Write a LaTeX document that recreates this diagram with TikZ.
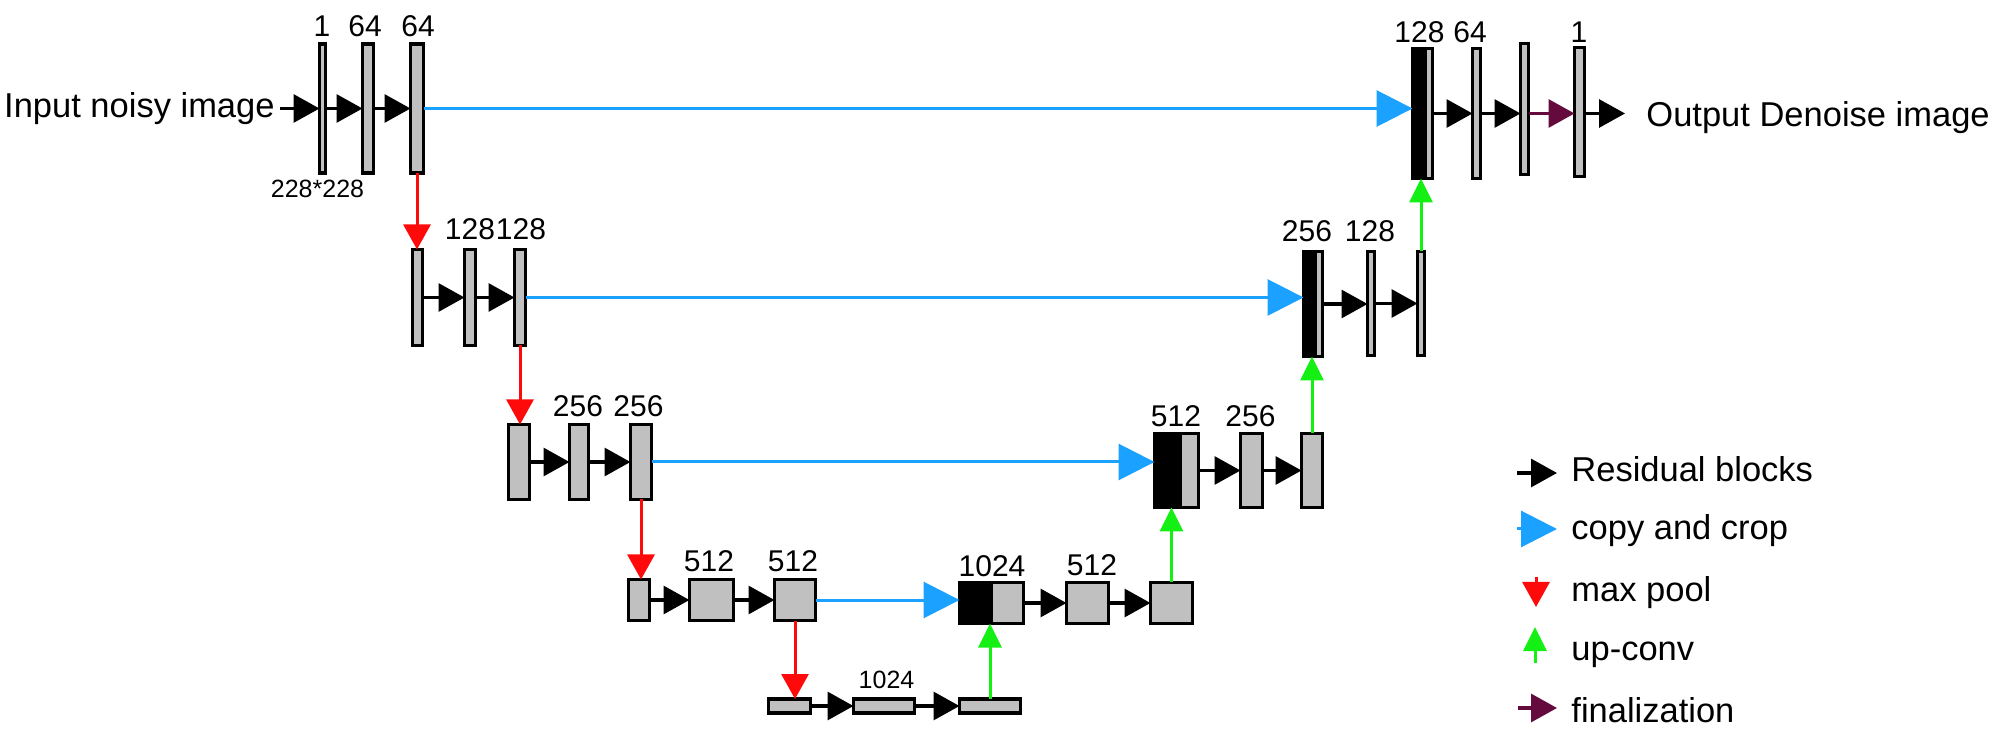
\documentclass[tikz,border=0pt]{standalone}
\usepackage{fontspec}
\setmainfont{Liberation Sans}
\usetikzlibrary{arrows.meta}
\definecolor{boxgray}{RGB}{192,192,192}
\definecolor{copyblue}{RGB}{27,161,255}
\definecolor{poolred}{RGB}{255,10,10}
\definecolor{upgreen}{RGB}{20,240,20}
\definecolor{finmaroon}{RGB}{100,10,60}
\begin{document}
\begin{tikzpicture}[x=0.5pt,y=-0.5pt,
  blk/.style={draw=black, line width=1.6pt, fill=boxgray, inner sep=0pt, outer sep=0pt},
  blkk/.style={blk, fill=black},
  res/.style={draw=black, line width=1.6pt, -{Triangle[length=13pt,width=14pt]}},
  fin/.style={draw=finmaroon, line width=1.6pt, -{Triangle[length=13pt,width=14pt]}},
  copyarr/.style={draw=copyblue, line width=1.5pt, -{Triangle[length=18pt,width=18pt]}},
  pool/.style={draw=poolred, line width=1.5pt, -{Triangle[length=12.5pt,width=13.5pt]}},
  upc/.style={draw=upgreen, line width=1.5pt, -{Triangle[length=12pt,width=11.5pt]}},
  lbl/.style={font=\fontsize{15}{18}\selectfont, inner sep=0pt, anchor=base},
  slbl/.style={font=\fontsize{12.5}{15}\selectfont, inner sep=0pt, anchor=base},
  bigtxt/.style={font=\fontsize{17.25}{20}\selectfont, inner ysep=0pt},
  legtxt/.style={bigtxt, anchor=base west, inner xsep=7pt}
]
\useasboundingbox (0,0) rectangle (2000,747);

% ---------- encoder level 1 ----------
\node[blk, minimum width=3pt, minimum height=64.5pt] (e11) at (322.5,108.5) {};
\node[blk, minimum width=5.5pt, minimum height=64.5pt] (e12) at (368,108.5) {};
\node[blk, minimum width=6.5pt, minimum height=64.5pt] (e13) at (417,108.5) {};
% ---------- encoder level 2 ----------
\node[blk, minimum width=5pt, minimum height=48pt] (e21) at (417.5,297.5) {};
\node[blk, minimum width=5.5pt, minimum height=48pt] (e22) at (470,297.5) {};
\node[blk, minimum width=5.5pt, minimum height=48pt] (e23) at (520,297.5) {};
% ---------- encoder level 3 ----------
\node[blk, minimum width=10.5pt, minimum height=37.5pt] (e31) at (519,462) {};
\node[blk, minimum width=9.5pt, minimum height=37.5pt] (e32) at (579,462) {};
\node[blk, minimum width=10.5pt, minimum height=37.5pt] (e33) at (641,462) {};
% ---------- encoder level 4 ----------
\node[blk, minimum width=10.5pt, minimum height=20.5pt] (e41) at (639,600) {};
\node[blk, minimum width=22pt, minimum height=20.5pt] (e42) at (711.5,600) {};
\node[blk, minimum width=20.5pt, minimum height=20.5pt] (e43) at (795,600) {};
% ---------- bottom ----------
\node[blk, minimum width=21pt, minimum height=7pt] (b1) at (789.5,706) {};
\node[blk, minimum width=30.5pt, minimum height=7pt] (b2) at (884,706) {};
\node[blk, minimum width=30.5pt, minimum height=7pt] (b3) at (990,706) {};
% ---------- decoder level 4 ----------
\node[blkk, minimum width=15.75pt, minimum height=20.5pt] (d41k) at (975.25,603) {};
\node[blk, minimum width=16.25pt, minimum height=20.5pt] (d41g) at (1007.25,603) {};
\node[blk, minimum width=21pt, minimum height=20.5pt] (d42) at (1087.5,603) {};
\node[blk, minimum width=21pt, minimum height=20.5pt] (d43) at (1171.5,603) {};
% ---------- decoder level 3 ----------
\node[blkk, minimum width=12.75pt, minimum height=37pt] (d31k) at (1167.25,470.5) {};
\node[blk, minimum width=9.25pt, minimum height=37pt] (d31g) at (1189.25,470.5) {};
\node[blk, minimum width=11pt, minimum height=37pt] (d32) at (1251.5,470.5) {};
\node[blk, minimum width=10.5pt, minimum height=37pt] (d33) at (1312,470.5) {};
% ---------- decoder level 2 ----------
\node[blkk, minimum width=5.75pt, minimum height=52.5pt] (d21k) at (1309.25,304) {};
\node[blk, minimum width=3.75pt, minimum height=52.5pt] (d21g) at (1318.75,304) {};
\node[blk, minimum width=3.5pt, minimum height=52pt] (d22) at (1371,303.5) {};
\node[blk, minimum width=3.5pt, minimum height=52pt] (d23) at (1421,303.5) {};
% ---------- decoder level 1 ----------
\node[blkk, minimum width=6.25pt, minimum height=65pt] (d11k) at (1418.75,113.5) {};
\node[blk, minimum width=3.75pt, minimum height=65pt] (d11g) at (1428.75,113.5) {};
\node[blk, minimum width=4pt, minimum height=65pt] (d12) at (1476.5,113.5) {};
\node[blk, minimum width=4pt, minimum height=65.5pt] (d13) at (1524.5,109) {};
\node[blk, minimum width=5pt, minimum height=64.5pt] (d14) at (1579.5,112) {};

% ---------- texts ----------
\node[bigtxt, anchor=base east, inner xsep=2.5pt] (in) at (280,118) {Input noisy image};
\node[bigtxt, anchor=base west, inner xsep=10.5pt] (out) at (1625,127) {Output Denoise image};

\node[lbl] (t11) at (322,37) {1};
\node[lbl] (t12) at (365,37) {64};
\node[lbl] (t13) at (418,37) {64};
\node[slbl] (tsz) at (317.5,198) {228*228};
\node[lbl] (t22) at (470,240) {128};
\node[lbl] (t23) at (521,240) {128};
\node[lbl] (t32) at (578,417) {256};
\node[lbl] (t33) at (638.5,417) {256};
\node[lbl] (t42) at (709,572) {512};
\node[lbl] (t43) at (793,572) {512};
\node[slbl] (tb2) at (886.5,688) {1024};
\node[lbl] (td41) at (992,577) {1024};
\node[lbl] (td42) at (1092,575) {512};
\node[lbl] (td31) at (1176,427) {512};
\node[lbl] (td32) at (1250.5,427) {256};
\node[lbl] (td21) at (1307,242) {256};
\node[lbl] (td22) at (1370,242) {128};
\node[lbl] (td11) at (1419.5,43) {128};
\node[lbl] (td12) at (1470,43) {64};
\node[lbl] (td14) at (1579,43) {1};

% ---------- residual arrows ----------
\draw[res] (in.east |- e11) -- (e11.west);
\draw[res] (e11.east) -- (e11.east -| e12.west);
\draw[res] (e12.east) -- (e12.east -| e13.west);
\draw[res] (e21.east) -- (e21.east -| e22.west);
\draw[res] (e22.east) -- (e22.east -| e23.west);
\draw[res] (e31.east) -- (e31.east -| e32.west);
\draw[res] (e32.east) -- (e32.east -| e33.west);
\draw[res] (e41.east) -- (e41.east -| e42.west);
\draw[res] (e42.east) -- (e42.east -| e43.west);
\draw[res] (b1.east) -- (b1.east -| b2.west);
\draw[res] (b2.east) -- (b2.east -| b3.west);
\draw[res] (d41g.east) -- (d41g.east -| d42.west);
\draw[res] (d42.east) -- (d42.east -| d43.west);
\draw[res] (d31g.east) -- (d31g.east -| d32.west);
\draw[res] (d32.east) -- (d32.east -| d33.west);
\draw[res] (d21g.east) -- (d21g.east -| d22.west);
\draw[res] (d22.east) -- (d22.east -| d23.west);
\draw[res] (d11g.east) -- (d11g.east -| d12.west);
\draw[res] (d12.east) -- (d12.east -| d13.west);
\draw[fin] (d13.east |- d12) -- (d12 -| d14.west);
\draw[res] (d14.east |- d12) -- (d12 -| out.west);

% ---------- copy and crop ----------
\draw[copyarr] (e13) -- (e13 -| d11k.west);
\draw[copyarr] (e23) -- (e23 -| d21k.west);
\draw[copyarr] (e33) -- (e33 -| d31k.west);
\draw[copyarr] (e43) -- (e43 -| d41k.west);

% ---------- max pool ----------
\draw[pool] (e13.south) -- (e13.south |- e21.north);
\draw[pool] (e23.south) -- (e23.south |- e31.north);
\draw[pool] (e33.south) -- (e33.south |- e41.north);
\draw[pool] (e43.south) -- (e43.south |- b1.north);

% ---------- up-conv ----------
\draw[upc] (b3.north) -- (b3.north |- d41k.south);
\draw[upc] (d43.north) -- (d43.north |- d31k.south);
\draw[upc] (d33.north) -- (d33.north |- d21k.south);
\draw[upc] (d23.north) -- (d23.north |- d11k.south);

% ---------- legend ----------
\coordinate (lg1a) at (1517,473);
\node[legtxt] (lg1) at (1557,482) {Residual blocks};
\draw[res] (lg1a) -- (lg1a -| lg1.west);

\coordinate (lg2a) at (1517,529);
\node[legtxt] (lg2) at (1557,540) {copy and crop};
\draw[copyarr] (lg2a) -- (lg2a -| lg2.west);

\coordinate (lg3a) at (1536,577);
\coordinate (lg3b) at (1536,607);
\node[legtxt] (lg3) at (1557,602) {max pool};
\draw[pool] (lg3a) -- (lg3b);

\coordinate (lg4a) at (1535,663);
\coordinate (lg4b) at (1535,627);
\node[legtxt] (lg4) at (1557,660) {up-conv};
\draw[upc] (lg4a) -- (lg4b);

\coordinate (lg5a) at (1518,708);
\node[legtxt] (lg5) at (1557,722) {finalization};
\draw[fin] (lg5a) -- (lg5a -| lg5.west);
\end{tikzpicture}
\end{document}
